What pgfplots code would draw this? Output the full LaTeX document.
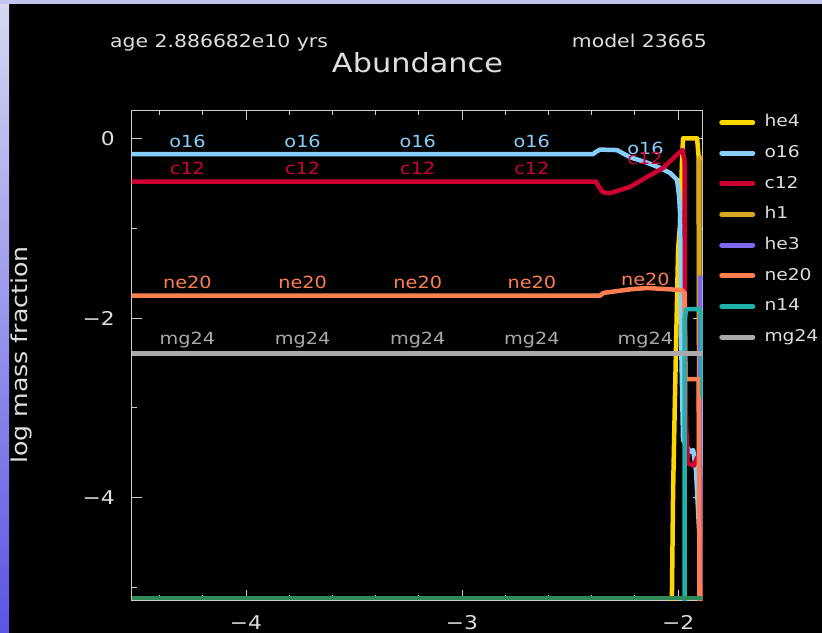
\documentclass[border=0pt]{standalone}
\usepackage{pgfplots}
\pgfplotsset{compat=1.18}
\usepackage{fontspec}
\setmainfont{DejaVu Sans}[FakeStretch=1.15]
\definecolor{txt}{RGB}{222,222,222}
\definecolor{axline}{RGB}{205,205,205}
\definecolor{che4}{RGB}{255,215,0}
\definecolor{co16}{RGB}{135,206,250}
\definecolor{cc12}{RGB}{205,0,50}
\definecolor{ch1}{RGB}{218,165,32}
\definecolor{che3}{RGB}{123,104,238}
\definecolor{cne20}{RGB}{255,127,80}
\definecolor{cn14}{RGB}{32,178,170}
\definecolor{cmg24}{RGB}{170,170,170}
\definecolor{cgreen}{RGB}{46,139,87}
\definecolor{bandtop}{RGB}{215,215,242}
\definecolor{bandbot}{RGB}{92,84,228}
\definecolor{topband}{RGB}{195,195,238}
\newcommand{\fs}[1]{\fontsize{#1}{#1}\selectfont}
\begin{document}
\begin{tikzpicture}[x=1bp,y=1bp]
\useasboundingbox (0,0) rectangle (822,633);
\fill[black] (0,0) rectangle (822,633);
\shade[top color=bandtop, bottom color=bandbot] (0,0) rectangle (9,633);
\fill[topband] (0,629) rectangle (822,633);
\node[anchor=base west, text=txt, font=\fs{17.8}, inner sep=0pt] at (110,585) {age 2.886682e10 yrs};
\node[anchor=base east, text=txt, font=\fs{17.8}, inner sep=0pt] at (707,585) {model 23665};
\node[anchor=base, text=txt, font=\fs{26.5}, inner sep=0pt] at (417.5,560) {Abundance};
\begin{axis}[
  at={(131.5bp,32.8bp)}, anchor=south west,
  scale only axis, width=571.2bp, height=490.2bp,
  xmin=-4.530, xmax=-1.886, ymin=-5.14, ymax=0.316,
  axis line style={axline, line width=0.9bp},
  tick style={axline, line width=0.9bp},
  tick align=inside,
  major tick length=10bp, minor tick length=5bp,
  xtick={-4,-3,-2}, xticklabels={−4,−3,−2},
  minor xtick={-4.4,-4.2,-3.8,-3.6,-3.4,-3.2,-2.8,-2.6,-2.4,-2.2},
  ytick={0,-2,-4}, yticklabels={0,−2,−4},
  minor ytick={-1,-3,-5},
  ticklabel style={text=txt, font=\fs{19}, inner sep=0pt},
  xticklabel style={yshift=-15bp},
  yticklabel style={xshift=-16.5bp},
  ylabel={log mass fraction},
  ylabel style={at={(axis description cs:-0.1935,0.5)}, anchor=center, text=txt, font=\fs{22}, inner sep=0pt},
  every axis plot/.append style={line width=4.5bp, line join=round, no markers},
  legend cell align=left,
  legend style={at={(axis description cs:1,1)}, anchor=north west, xshift=14.3bp, yshift=-3bp,
    draw=none, fill=none, inner sep=0pt, outer sep=0pt, row sep=12.66bp, column sep=0bp,
    nodes={inner sep=0pt, text height=14bp, text depth=4bp, text=txt, font=\fs{16.3}, anchor=base west}},
  legend image code/.code={\path (0bp,4.5bp) (43bp,4.5bp); \draw[#1, line width=5bp, line cap=round] (2.5bp,4.5bp) -- (33.5bp,4.5bp);},
]
\addplot[che4] coordinates {(-2.034,-6) (-2.028,-5.0) (-2.023,-3.91) (-2.014,-2.83) (-2.000,-1.24) (-1.991,-0.96) (-1.981,-0.2) (-1.977,0.0) (-1.912,0.0) (-1.905,-0.2) (-1.900,-6)};
\addlegendentry{he4}
\addplot[co16] coordinates {(-4.530,-0.176) (-2.394,-0.176) (-2.380,-0.15) (-2.362,-0.125) (-2.283,-0.13) (-2.222,-0.21) (-2.144,-0.27) (-2.083,-0.33) (-2.037,-0.385) (-2.005,-0.46) (-1.995,-0.65) (-1.991,-0.83) (-1.988,-1.2) (-1.986,-2.24) (-1.977,-3.36) (-1.944,-3.49) (-1.930,-3.47) (-1.917,-3.7) (-1.889,-5.0)};
\addlegendentry{o16}
\addplot[cc12] coordinates {(-4.530,-0.48) (-2.380,-0.48) (-2.366,-0.54) (-2.348,-0.60) (-2.315,-0.61) (-2.222,-0.54) (-2.144,-0.43) (-2.070,-0.33) (-1.991,-0.15) (-1.979,-0.13) (-1.970,-0.25) (-1.968,-1.8) (-1.963,-3.2) (-1.954,-3.62) (-1.926,-3.64) (-1.912,-3.55) (-1.898,-3.65) (-1.890,-5.3)};
\addlegendentry{c12}
\addplot[ch1] coordinates {(-1.902,-6) (-1.901,-0.22) (-1.880,-0.22)};
\addlegendentry{h1}
\addplot[che3] coordinates {(-1.899,-6) (-1.898,-1.55) (-1.880,-1.55)};
\addlegendentry{he3}
\addplot[cne20] coordinates {(-4.530,-1.751) (-2.362,-1.751) (-2.345,-1.72) (-2.222,-1.68) (-2.144,-1.665) (-2.037,-1.68) (-1.981,-1.69) (-1.970,-1.72) (-1.966,-2.68) (-1.905,-2.68) (-1.899,-6)};
\addlegendentry{ne20}
\addplot[cn14] coordinates {(-1.970,-6) (-1.970,-2.03) (-1.963,-1.90) (-1.900,-1.90) (-1.890,-2.03) (-1.889,-2.82) (-1.884,-2.9)};
\addlegendentry{n14}
\addplot[cmg24] coordinates {(-4.530,-2.392) (-1.886,-2.392)};
\addlegendentry{mg24}
\addplot[cgreen, line width=4bp, forget plot] coordinates {(-4.530,-5.115) (-1.886,-5.115)};
\node[anchor=base, text=co16, font=\fs{16.8}, inner sep=0pt] at (axis cs:-4.271,-0.099) {o16};
\node[anchor=base, text=co16, font=\fs{16.8}, inner sep=0pt] at (axis cs:-3.738,-0.099) {o16};
\node[anchor=base, text=co16, font=\fs{16.8}, inner sep=0pt] at (axis cs:-3.205,-0.099) {o16};
\node[anchor=base, text=co16, font=\fs{16.8}, inner sep=0pt] at (axis cs:-2.677,-0.099) {o16};
\node[anchor=base, text=co16, font=\fs{16.8}, inner sep=0pt] at (axis cs:-2.151,-0.185) {o16};
\node[anchor=base, text=cc12, font=\fs{16.8}, inner sep=0pt] at (axis cs:-4.271,-0.407) {c12};
\node[anchor=base, text=cc12, font=\fs{16.8}, inner sep=0pt] at (axis cs:-3.738,-0.407) {c12};
\node[anchor=base, text=cc12, font=\fs{16.8}, inner sep=0pt] at (axis cs:-3.205,-0.407) {c12};
\node[anchor=base, text=cc12, font=\fs{16.8}, inner sep=0pt] at (axis cs:-2.677,-0.407) {c12};
\node[anchor=base, text=cc12, font=\fs{16.8}, inner sep=0pt] at (axis cs:-2.153,-0.296) {c12};
\node[anchor=base, text=cne20, font=\fs{16.8}, inner sep=0pt] at (axis cs:-4.271,-1.676) {ne20};
\node[anchor=base, text=cne20, font=\fs{16.8}, inner sep=0pt] at (axis cs:-3.738,-1.676) {ne20};
\node[anchor=base, text=cne20, font=\fs{16.8}, inner sep=0pt] at (axis cs:-3.205,-1.676) {ne20};
\node[anchor=base, text=cne20, font=\fs{16.8}, inner sep=0pt] at (axis cs:-2.677,-1.676) {ne20};
\node[anchor=base, text=cne20, font=\fs{16.8}, inner sep=0pt] at (axis cs:-2.151,-1.632) {ne20};
\node[anchor=base, text=cmg24, font=\fs{16.8}, inner sep=0pt] at (axis cs:-4.271,-2.299) {mg24};
\node[anchor=base, text=cmg24, font=\fs{16.8}, inner sep=0pt] at (axis cs:-3.738,-2.299) {mg24};
\node[anchor=base, text=cmg24, font=\fs{16.8}, inner sep=0pt] at (axis cs:-3.205,-2.299) {mg24};
\node[anchor=base, text=cmg24, font=\fs{16.8}, inner sep=0pt] at (axis cs:-2.677,-2.299) {mg24};
\node[anchor=base, text=cmg24, font=\fs{16.8}, inner sep=0pt] at (axis cs:-2.151,-2.299) {mg24};
\end{axis}
\end{tikzpicture}
\end{document}
